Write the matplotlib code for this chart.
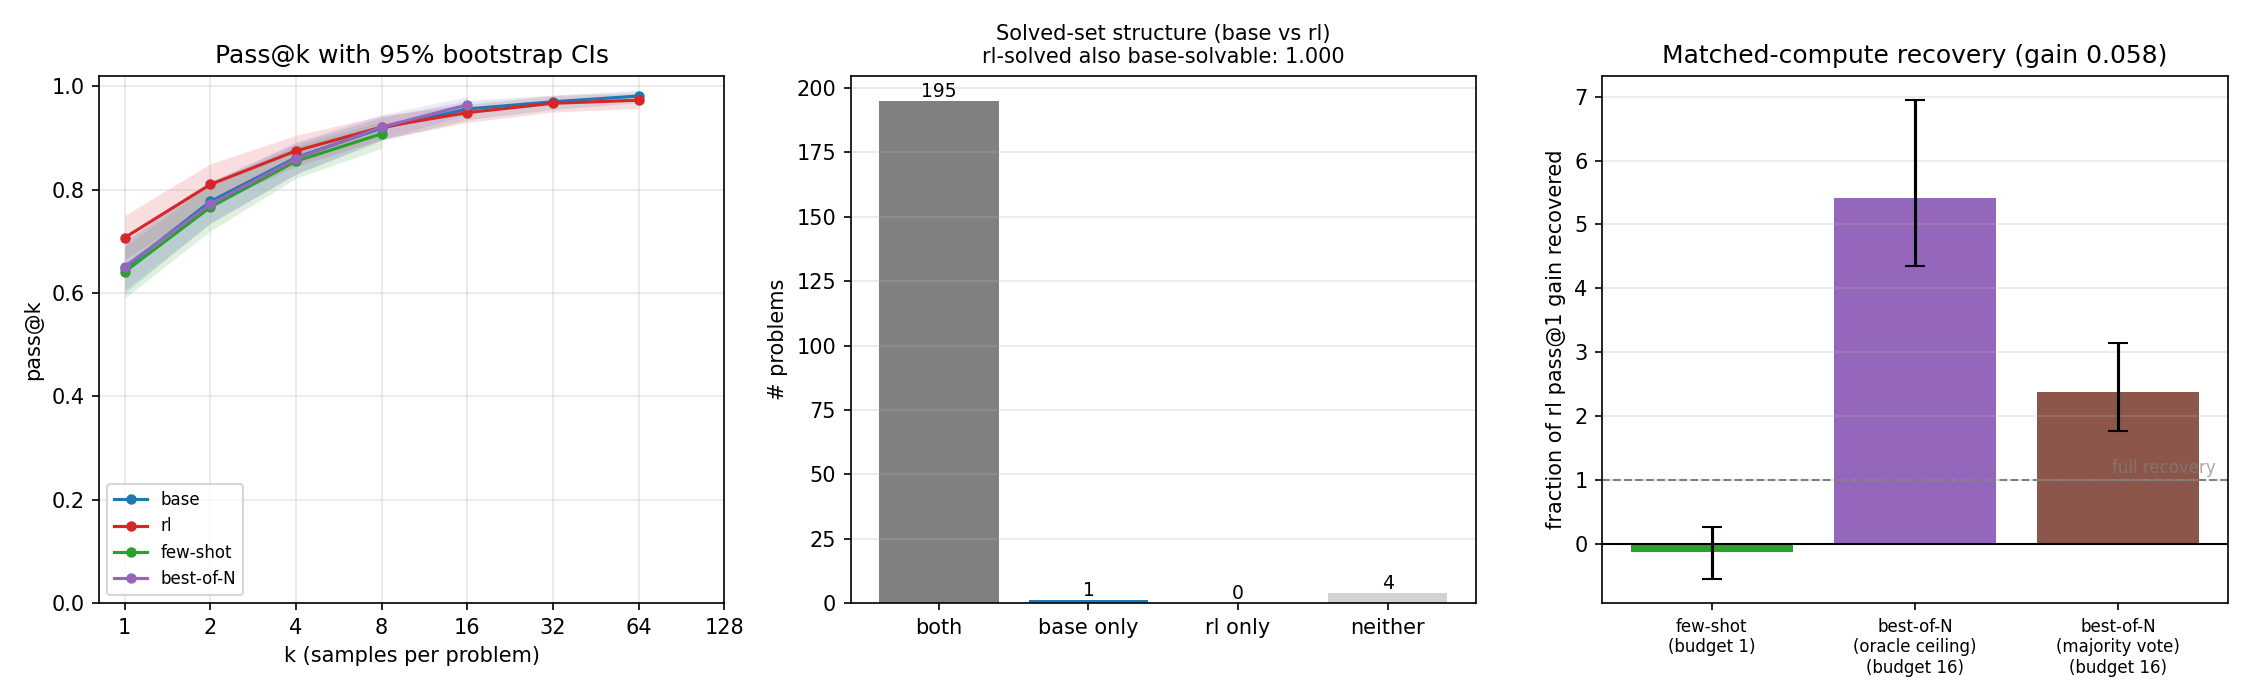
import numpy as np
import matplotlib
matplotlib.use("Agg")
import matplotlib.pyplot as plt

# pass@k curves
ks = [1, 2, 4, 8, 16, 32, 64]
base = [0.648, 0.777, 0.862, 0.919, 0.956, 0.970, 0.981]
rl = [0.707, 0.810, 0.875, 0.921, 0.949, 0.967, 0.973]
fewshot_k = [1, 2, 4, 8]
fewshot = [0.641, 0.766, 0.855, 0.908]
bon_k = [1, 2, 4, 8, 16]
bon = [0.651, 0.772, 0.860, 0.921, 0.964]

base_lo = [0.60, 0.735, 0.830, 0.895, 0.935, 0.955, 0.968]
base_hi = [0.70, 0.815, 0.890, 0.940, 0.972, 0.983, 0.992]
rl_lo = [0.665, 0.770, 0.845, 0.897, 0.930, 0.950, 0.957]
rl_hi = [0.750, 0.850, 0.905, 0.943, 0.965, 0.982, 0.987]
fs_lo = [0.590, 0.720, 0.822, 0.880]
fs_hi = [0.690, 0.810, 0.885, 0.932]
bon_lo = [0.605, 0.735, 0.830, 0.897, 0.945]
bon_hi = [0.700, 0.815, 0.892, 0.945, 0.980]

# solved-set structure
set_cats = ["both", "base only", "rl only", "neither"]
set_counts = [195, 1, 0, 4]

# matched-compute recovery
rec_labels = ["few-shot\n(budget 1)",
              "best-of-N\n(oracle ceiling)\n(budget 16)",
              "best-of-N\n(majority vote)\n(budget 16)"]
rec_vals = [-0.12, 5.42, 2.38]
rec_lo = [-0.55, 4.35, 1.77]
rec_hi = [0.27, 6.95, 3.15]

fig, axes = plt.subplots(1, 3, figsize=(15, 4.6), dpi=150)

# --- panel 1
ax = axes[0]
series = [
    ("base", ks, base, base_lo, base_hi, "tab:blue"),
    ("rl", ks, rl, rl_lo, rl_hi, "tab:red"),
    ("few-shot", fewshot_k, fewshot, fs_lo, fs_hi, "tab:green"),
    ("best-of-N", bon_k, bon, bon_lo, bon_hi, "tab:purple"),
]
for name, x, y, lo, hi, c in series:
    ax.plot(x, y, marker="o", ms=4, lw=1.5, color=c, label=name)
    ax.fill_between(x, lo, hi, color=c, alpha=0.15, lw=0)
ax.set_xscale("log", base=2)
ax.set_xticks([1, 2, 4, 8, 16, 32, 64, 128])
ax.set_xticklabels(["1", "2", "4", "8", "16", "32", "64", "128"])
ax.set_xlim(2 ** -0.3, 128)
ax.set_ylim(0, 1.02)
ax.set_xlabel("k (samples per problem)")
ax.set_ylabel("pass@k")
ax.set_title("Pass@k with 95% bootstrap CIs")
ax.grid(alpha=0.3)
ax.legend(loc="lower left", fontsize=8)

# --- panel 2
ax = axes[1]
bars = ax.bar(set_cats, set_counts, color=["gray", "tab:blue", "tab:red", "lightgray"])
ax.bar_label(bars, fontsize=9)
ax.set_ylabel("# problems")
ax.set_title("Solved-set structure (base vs rl)\nrl-solved also base-solvable: 1.000", fontsize=10)
ax.grid(axis="y", alpha=0.3)

# --- panel 3
ax = axes[2]
xpos = np.arange(len(rec_vals))
yerr = [np.array(rec_vals) - np.array(rec_lo), np.array(rec_hi) - np.array(rec_vals)]
ax.bar(xpos, rec_vals, yerr=yerr, capsize=5,
       color=["tab:green", "tab:purple", "tab:brown"])
ax.axhline(0, color="black", lw=1)
ax.axhline(1, color="gray", ls="--", lw=1)
ax.text(2.48, 1.05, "full recovery", ha="right", va="bottom",
        color="gray", alpha=0.7, fontsize=8)
ax.set_xticks(xpos)
ax.set_xticklabels(rec_labels, fontsize=8)
ax.set_ylabel("fraction of rl pass@1 gain recovered")
ax.set_title("Matched-compute recovery (gain 0.058)")
ax.grid(axis="y", alpha=0.3)

fig.subplots_adjust(left=0.044, right=0.990, bottom=0.126, top=0.890, wspace=0.202)
plt.savefig("out.png")
